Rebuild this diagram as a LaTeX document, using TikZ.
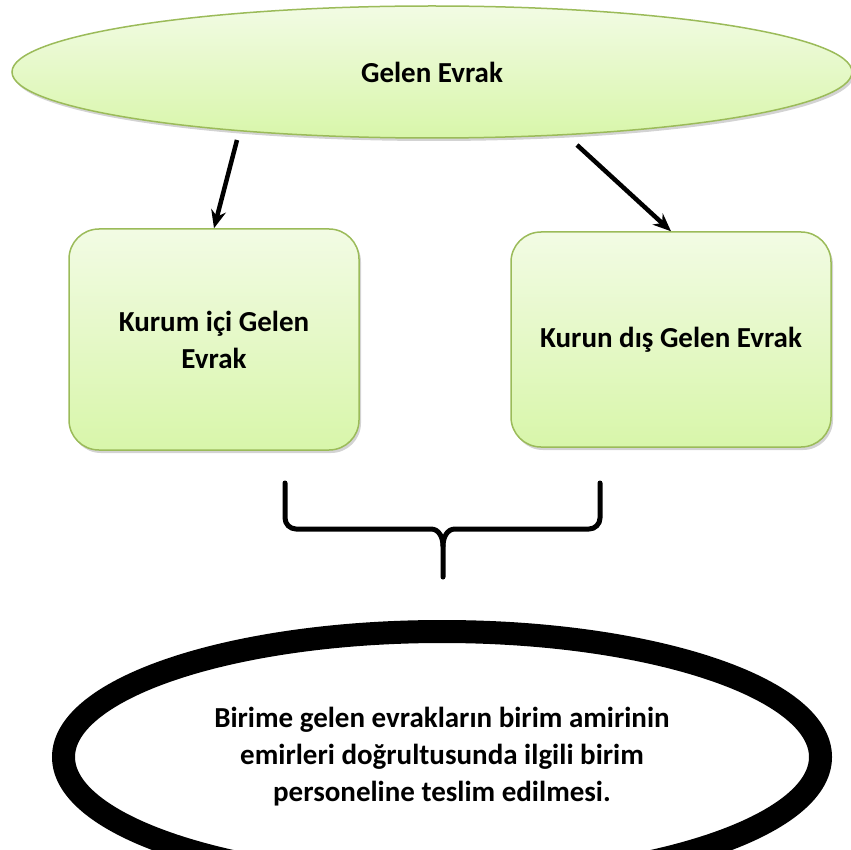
\documentclass[tikz,border=0pt]{standalone}
\usepackage{fontspec}
\setmainfont{Carlito}
\usetikzlibrary{shapes.geometric,shadows,arrows.meta}
\definecolor{lightgreen}{HTML}{F2FBE4}
\definecolor{midgreen}{HTML}{D8F6AA}
\definecolor{bordergreen}{HTML}{9BBB59}
\begin{document}
\begin{tikzpicture}[x=1pt, y=-1pt,
    font=\fontsize{29}{37}\selectfont\bfseries,
    greenbox/.style={draw=bordergreen, line width=1.5pt, top color=lightgreen, bottom color=midgreen, drop shadow={shadow xshift=2pt, shadow yshift=-3pt, opacity=0.35}, rounded corners=30pt, align=center},
    arr/.style={-{Stealth[length=18pt, width=15pt]}, line width=4.5pt},
    brace/.style={line width=5pt, line cap=round, line join=round}
]
\useasboundingbox (0,0) rectangle (851,850);
\node[greenbox, ellipse, sharp corners, minimum width=840pt, minimum height=132pt] (gelen) at (432,72) {Gelen Evrak};
\node[greenbox, minimum width=290pt, minimum height=221pt] (ici) at (214,339.5) {Kurum içi Gelen\\Evrak};
\node[greenbox, minimum width=320pt, minimum height=215pt] (dis) at (671,339.5) {Kurun dış Gelen Evrak};

\coordinate (a1) at (237,140);
\coordinate (a2) at (577,145);
\draw[arr] (a1) -- (ici.north);
\draw[arr] (a2) -- (dis.north);

\coordinate (bl) at (285,483);
\coordinate (br) at (600,483);
\coordinate (bt) at (443,577);
\draw[brace] (bl) -- (285,518) to[out=-90,in=180] (296,529) -- (431,529) to[out=0,in=90] (443,546) -- (bt);
\draw[brace] (br) -- (600,518) to[out=-90,in=0] (589,529) -- (455,529) to[out=180,in=90] (443,546);

\node[ellipse, draw, line width=23pt, fill=white, minimum width=757pt, minimum height=251pt, align=center] (teslim) at (442,757) {Birime gelen evrakların birim amirinin\\emirleri doğrultusunda ilgili birim\\personeline teslim edilmesi.};
\end{tikzpicture}
\end{document}
